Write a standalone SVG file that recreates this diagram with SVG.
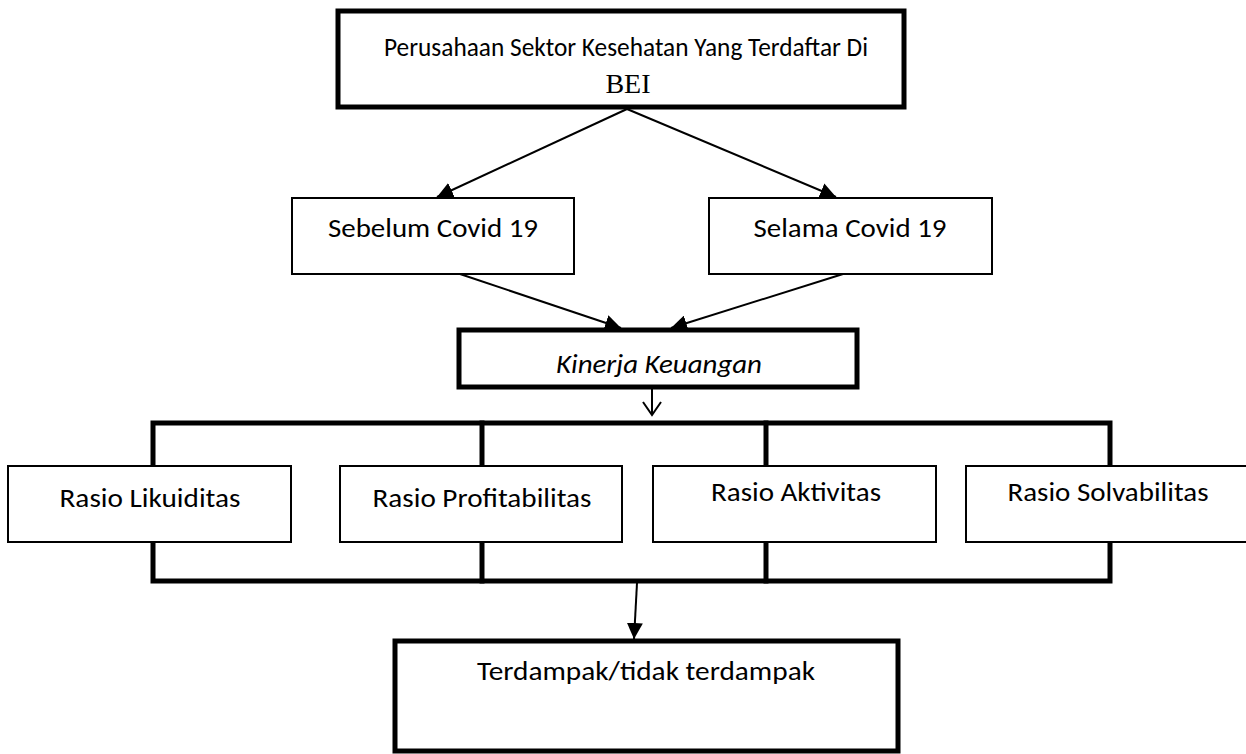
<svg xmlns="http://www.w3.org/2000/svg" width="1246" height="754" viewBox="0 0 1246 754">
<style>
.thin{fill:#fff;stroke:#000;stroke-width:2}
.thick{fill:#fff;stroke:#000;stroke-width:5}
.lbl{font-family:Carlito,Lato,"Open Sans",sans-serif;font-size:27px;fill:#000;text-anchor:middle}
.ital{font-style:italic}
.serif{font-family:"Liberation Serif","Times New Roman",serif;font-size:28px;fill:#000;text-anchor:middle}
.ln{stroke:#000;stroke-width:2;fill:none}
.bar{stroke:#000;stroke-width:5;fill:none;stroke-linejoin:miter;stroke-linecap:square}
</style>
<defs>
<marker id="ahb" viewBox="0 0 10 10" refX="10" refY="5" markerWidth="16" markerHeight="16" markerUnits="userSpaceOnUse" orient="auto">
<path d="M0,0 L10,5 L0,10 z" fill="#000"/>
</marker>
</defs>
<g id="connectors">
<line class="ln" x1="627" y1="109" x2="437" y2="197" marker-end="url(#ahb)"/>
<line class="ln" x1="627" y1="109" x2="836" y2="197" marker-end="url(#ahb)"/>
<line class="ln" x1="460" y1="274" x2="621" y2="328" marker-end="url(#ahb)"/>
<line class="ln" x1="843" y1="274" x2="671" y2="328" marker-end="url(#ahb)"/>
<line class="ln" x1="652" y1="389" x2="652" y2="415"/>
<polyline class="ln" points="643,402 652,415 661,402"/>
<polyline class="bar" points="153,466 153,423 1110,423 1110,466"/>
<line class="bar" x1="482" y1="423" x2="482" y2="466"/>
<line class="bar" x1="766" y1="423" x2="766" y2="466"/>
<polyline class="bar" points="153,542 153,581 1110,581 1110,542"/>
<line class="bar" x1="482" y1="542" x2="482" y2="581"/>
<line class="bar" x1="766" y1="542" x2="766" y2="581"/>
<line class="ln" x1="637" y1="583" x2="634" y2="639" marker-end="url(#ahb)"/>
</g>
<g id="node-top">
<rect class="thick" x="338" y="11" width="566" height="96"/>
<text class="lbl" x="626" y="56" textLength="484" lengthAdjust="spacingAndGlyphs">Perusahaan Sektor Kesehatan Yang Terdaftar Di</text>
<text class="serif" x="628" y="93">BEI</text>
</g>
<g id="node-sebelum">
<rect class="thin" x="292" y="198" width="282" height="76"/>
<text class="lbl" x="433" y="237" textLength="210" lengthAdjust="spacingAndGlyphs">Sebelum Covid 19</text>
</g>
<g id="node-selama">
<rect class="thin" x="709" y="198" width="283" height="76"/>
<text class="lbl" x="850" y="237" textLength="193" lengthAdjust="spacingAndGlyphs">Selama Covid 19</text>
</g>
<g id="node-kinerja">
<rect class="thick" x="459" y="330" width="398" height="57"/>
<text class="lbl ital" x="659" y="373" textLength="206" lengthAdjust="spacingAndGlyphs">Kinerja Keuangan</text>
</g>
<g id="node-likuiditas">
<rect class="thin" x="8" y="466" width="283" height="76"/>
<text class="lbl" x="150" y="507" textLength="181" lengthAdjust="spacingAndGlyphs">Rasio Likuiditas</text>
</g>
<g id="node-profitabilitas">
<rect class="thin" x="340" y="466" width="282" height="76"/>
<text class="lbl" x="482" y="507" textLength="219" lengthAdjust="spacingAndGlyphs">Rasio Profitabilitas</text>
</g>
<g id="node-aktivitas">
<rect class="thin" x="653" y="466" width="283" height="76"/>
<text class="lbl" x="796" y="501" textLength="170" lengthAdjust="spacingAndGlyphs">Rasio Aktivitas</text>
</g>
<g id="node-solvabilitas">
<rect class="thin" x="966" y="466" width="290" height="76"/>
<text class="lbl" x="1108" y="501" textLength="201" lengthAdjust="spacingAndGlyphs">Rasio Solvabilitas</text>
</g>
<g id="node-result">
<rect class="thick" x="395" y="641" width="503" height="110"/>
<text class="lbl" x="646" y="680" textLength="338" lengthAdjust="spacingAndGlyphs">Terdampak/tidak terdampak</text>
</g>
</svg>
